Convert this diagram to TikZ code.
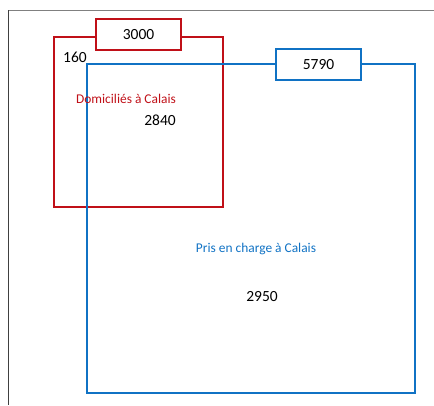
\documentclass[tikz,border=0pt]{standalone}
\usepackage{fontspec}
\setmainfont{Carlito}
\definecolor{calaisred}{RGB}{192,16,24}
\definecolor{calaisblue}{RGB}{16,114,196}
\begin{document}
\begin{tikzpicture}[x=1pt, y=-1pt, font=\fontsize{13.4}{15}\selectfont,
    redbox/.style={draw=calaisred, line width=1.2pt, minimum width=169pt, minimum height=170pt, inner sep=0pt},
    bluebox/.style={draw=calaisblue, line width=1.4pt, minimum width=328pt, minimum height=329pt, inner sep=0pt},
    tag/.style={fill=white, line width=1.2pt, minimum width=85pt, minimum height=31pt, inner sep=0pt},
    num/.style={font=\fontsize{15.5}{17}\selectfont}]
    \useasboundingbox (0,0) rectangle (434,405);
    % frame
    \draw[gray, line width=1pt] (8,10) -- (434,10);
    \draw[black!75, line width=1pt] (8,10) -- (8,405);

    \node[redbox] (dom) at (138.5,122) {};
    \node[bluebox] (pec) at (251,228.5) {};
    \node[tag, num, draw=calaisred] (domtot) at (138.5,34.5) {3000};
    \node[tag, num, draw=calaisblue] (pectot) at (318.5,64.5) {5790};

    \node[num] (seul) at (75,57) {160};
    \node[text=calaisred] (domlab) at (126,99) {Domiciliés à Calais};
    \node[num] (both) at (160,120) {2840};
    \node[text=calaisblue] (peclab) at (256,249) {Pris en charge à Calais};
    \node[num] (pecseul) at (262,297) {2950};
\end{tikzpicture}
\end{document}
